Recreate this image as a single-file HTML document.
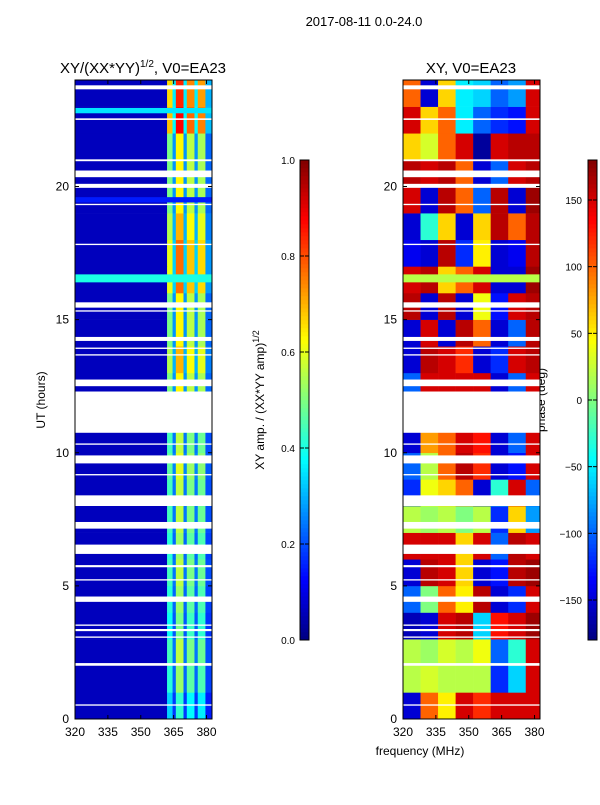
<!DOCTYPE html>
<html><head><meta charset="utf-8"><style>
body{margin:0;background:#fff;font-family:"Liberation Sans",sans-serif}
svg text{font-family:"Liberation Sans",sans-serif}
</style></head><body>
<svg id="fig" width="600" height="800" xmlns="http://www.w3.org/2000/svg">
<rect width="600" height="800" fill="#fff"/>
<text x="364" y="26" font-size="13" text-anchor="middle">2017-08-11 0.0-24.0</text>
<text x="143" y="73" font-size="15" text-anchor="middle">XY/(XX*YY)<tspan font-size="10" dy="-6">1/2</tspan><tspan dy="6">, V0=EA23</tspan></text>
<text x="471" y="73" font-size="15" text-anchor="middle">XY, V0=EA23</text>
<text x="420" y="755" font-size="12" text-anchor="middle">frequency (MHz)</text>
<text x="45" y="400" font-size="12" text-anchor="middle" transform="rotate(-90 45 400)">UT (hours)</text>
<text x="264" y="400" font-size="12" text-anchor="middle" transform="rotate(-90 264 400)">XY amp. / (XX*YY amp)<tspan font-size="9" dy="-5">1/2</tspan></text>
<text x="545" y="400" font-size="12" text-anchor="middle" transform="rotate(-90 545 400)">phase (deg)</text>
<g id="ampG"></g>
<g id="phG"></g>
<g id="axG"></g>
</svg>
<script>
// amplitude panel: frequency bin edges (MHz) and base profile
const ampEdges=[320,362,364.5,366,369.5,371,374.5,376,379.5,382.5];
const ampProfile=[0.06,0.55,0.3,0.7,0.3,0.62,0.3,0.6,0.25];
// hourly scale of the high-frequency band (hour 0 .. 23)
const ampHourScale=[0.6,0.75,0.8,0.7,0.75,0.8,0.75,0.8,0.8,0.85,0.8,0.8,0.9,1.0,0.9,0.9,1.1,1.1,1.0,0.9,0.9,0.9,1.25,1.2];
// special full-band rows [start UT, end UT, value]
const ampBands=[[16.4,16.7,0.4],[22.75,22.95,0.35],[19.4,19.6,0.15]];
// phase panel: 8 frequency columns, hourly rows (degrees), hour 0 first
const phEdges=[320,328,336,344,352,360,368,376,382.5];
const phase=[
[-150,100,50,150,120,150,150,150],
[20,30,20,20,20,-120,-60,150],
[20,10,30,20,40,-100,-30,150],
[-160,-150,150,160,-60,130,150,170],
[-100,0,100,50,160,-150,-120,150],
[-150,160,150,60,-150,-130,160,170],
[150,150,150,60,150,-100,160,150],
[20,10,20,0,20,-120,60,-80],
[-120,40,60,100,-150,-30,150,-100],
[-100,20,100,160,120,-150,-130,150],
[-150,80,100,150,130,-150,-100,150],
[-150,80,100,150,130,-150,-100,150],
[-100,150,150,150,150,-150,-100,150],
[-150,160,150,120,-150,-120,150,160],
[-150,150,-150,160,100,-150,-100,160],
[160,-150,160,-150,40,-130,150,160],
[150,160,60,100,150,-150,-150,170],
[-140,-150,160,-120,50,-150,-140,160],
[-150,-30,60,-150,60,160,100,160],
[150,-150,160,100,-100,160,-150,170],
[160,150,160,100,-150,-100,150,160],
[60,30,100,150,-170,150,160,160],
[150,60,100,-50,-100,-120,-130,150],
[100,-150,60,-50,-60,-100,-80,150]];
const phBands=[[16.4,16.7,20]];
// data gaps (UT hours)
const gaps=[[23.65,23.8],[22.5,22.56],[20.95,21.02],[20.35,20.6],[19.95,20.1],[19.3,19.35],[17.8,17.85],[15.45,15.65],[15.3,15.35],[14.2,14.35],[13.9,13.95],[13.65,13.7],[12.5,12.75],[10.75,12.3],[10.3,10.35],[9.6,9.9],[9.15,9.2],[8.0,8.4],[7.15,7.4],[6.2,6.55],[5.7,5.78],[5.2,5.25],[4.4,4.6],[3.5,3.55],[3.3,3.38],[3.05,3.1],[2.0,2.1],[0.5,0.55]];
const ampTicks=[0,0.2,0.4,0.6,0.8,1.0], phTicks=[-150,-100,-50,0,50,100,150];
const xTicks=[320,335,350,365,380], yTicks=[0,5,10,15,20];

const NS="http://www.w3.org/2000/svg";
function jet(v){v=Math.max(0,Math.min(1,v));
 const c=x=>Math.round(255*Math.max(0,Math.min(1,x)));
 const r=c(1.5-Math.abs(4*v-3)),g=c(1.5-Math.abs(4*v-2)),b=c(1.5-Math.abs(4*v-1));
 return `rgb(${r},${g},${b})`;}
const Y=t=>719-t*(639/24);
const XL=f=>75+(f-320)/62.5*137, XR=f=>403+(f-320)/62.5*137;
function rect(g,x,y,w,h,fill,name){const r=document.createElementNS(NS,'rect');
 r.setAttribute('x',x);r.setAttribute('y',y);r.setAttribute('width',w);r.setAttribute('height',h);r.setAttribute('fill',fill);
 
 
 g.appendChild(r);return r;}
function txt(x,y,s,anchor,size){const t=document.createElementNS(NS,'text');
 t.setAttribute('x',x);t.setAttribute('y',y);t.setAttribute('font-size',size||12);t.setAttribute('text-anchor',anchor);t.textContent=s;
 
 
 document.getElementById('axG').appendChild(t);}
const ampG=document.getElementById('ampG'), phG=document.getElementById('phG');
for(let h=0;h<24;h++){
 for(let i=0;i<ampProfile.length;i++){
  const v=i==0?ampProfile[0]:ampProfile[i]*ampHourScale[h];
  rect(ampG,XL(ampEdges[i]),Y(h+1),XL(ampEdges[i+1])-XL(ampEdges[i])+0.3,Y(h)-Y(h+1)+0.3,jet(v),'amp-cell');
 }
 for(let i=0;i<8;i++){
  rect(phG,XR(phEdges[i]),Y(h+1),XR(phEdges[i+1])-XR(phEdges[i])+0.3,Y(h)-Y(h+1)+0.3,jet((phase[h][i]+180)/360),'phase-cell');
 }
}
ampBands.forEach(b=>rect(ampG,XL(320),Y(b[1]),137,Y(b[0])-Y(b[1]),jet(b[2]),'amp-band'));
phBands.forEach(b=>rect(phG,XR(320),Y(b[1]),137,Y(b[0])-Y(b[1]),jet((b[2]+180)/360),'phase-band'));
gaps.forEach(g=>{rect(ampG,75,Y(g[1]),137,Math.max(1,Y(g[0])-Y(g[1])),'#fff','data-gap');
 rect(phG,403,Y(g[1]),137,Math.max(1,Y(g[0])-Y(g[1])),'#fff','data-gap');});
const ax=document.getElementById('axG');
// colorbars
for(let k=0;k<120;k++){const v=k/120;
 rect(ax,300,640-(k+1)*4,9,4.3,jet(v+0.5/120),'amp-colorbar-segment');
 rect(ax,588,640-(k+1)*4,9,4.3,jet(v+0.5/120),'phase-colorbar-segment');}
function frame(x,y,w,h,name){const r=rect(ax,x,y,w,h,'none',name);r.setAttribute('stroke','#000');r.setAttribute('stroke-width','1');}
frame(75,80,137,639,'amp-axes-frame');frame(403,80,137,639,'phase-axes-frame');
frame(300,160,9,480,'amp-colorbar');frame(588,160,9,480,'phase-colorbar');
function line(x1,y1,x2,y2){const l=document.createElementNS(NS,'line');
 l.setAttribute('x1',x1);l.setAttribute('y1',y1);l.setAttribute('x2',x2);l.setAttribute('y2',y2);l.setAttribute('stroke','#000');
 
 
 ax.appendChild(l);}
xTicks.forEach(f=>{[XL,XR].forEach(X=>{const x=X(f);line(x,719,x,715);line(x,80,x,84);txt(x,736,String(f),'middle');});});
yTicks.forEach(t=>{[[75,212],[403,540]].forEach(p=>{const y=Y(t);line(p[0],y,p[0]+4,y);line(p[1],y,p[1]-4,y);txt(p[0]-6,y+4,String(t),'end');});});
ampTicks.forEach(v=>{const y=640-v*480;line(300,y,304,y);line(309,y,305,y);txt(295,y+4,v.toFixed(1),'end',10);});
phTicks.forEach(v=>{const y=640-(v+180)/360*480;line(588,y,592,y);line(597,y,593,y);txt(582,y+4,v<0?'\u2212'+(-v):String(v),'end',10);});
</script>
</body></html>
